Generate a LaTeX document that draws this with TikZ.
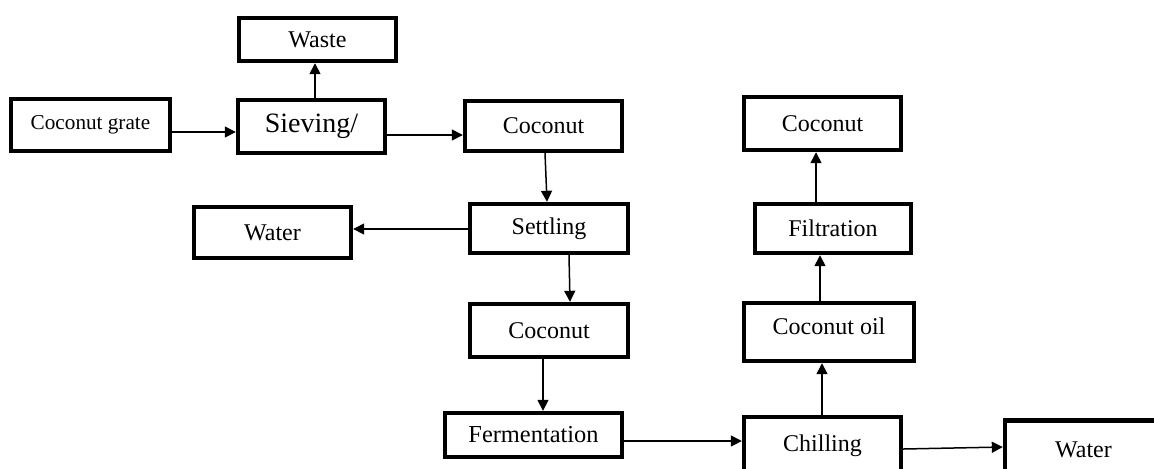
\documentclass[tikz,border=0pt]{standalone}
\usepackage{fontspec}
\setmainfont{Liberation Serif}
\usetikzlibrary{arrows.meta}

\begin{document}
\begin{tikzpicture}[x=0.5pt, y=-0.5pt,
    stage/.style={draw, line width=2.2pt, fill=white, inner sep=0pt, font=\fontsize{12}{14}\selectfont},
    flow/.style={-{Triangle[length=5.5pt, width=5.5pt]}, line width=0.75pt}]
    \useasboundingbox (0, 0) rectangle (1154, 468);
    \clip (0, 0) rectangle (1154, 468);
    \node[stage, minimum width=78.5pt, minimum height=21.5pt] (waste) at (317.5, 39.5) {Waste};
    \node[stage, minimum width=79.5pt, minimum height=26pt, font=\fontsize{10.6}{12}\selectfont] (grate) at (90.5, 125) {Coconut grate};
    \node[stage, minimum width=73.5pt, minimum height=26.5pt, font=\fontsize{14}{16}\selectfont] (sieve) at (311.5, 126.5) {Sieving/};
    \node[stage, minimum width=78.5pt, minimum height=25pt] (coco1) at (543.5, 126) {Coconut};
    \node[stage, minimum width=78.5pt, minimum height=25.5pt] (waterL) at (272.5, 232.5) {Water};
    \node[stage, minimum width=79pt, minimum height=24.5pt] (settle) at (549, 228.5) {Settling};
    \node[stage, minimum width=79pt, minimum height=26.5pt] (coco2) at (549, 330.5) {Coconut};
    \node[stage, minimum width=88.5pt, minimum height=22pt, font=\fontsize{12.2}{14}\selectfont] (ferment) at (533.5, 435) {Fermentation};
    \node[stage, minimum width=78.5pt, minimum height=29pt] (chill) at (822.5, 446) {Chilling};
    \node[stage, minimum width=78.5pt, minimum height=29pt] (waterR) at (1083.5, 449.5) {Water};
    \node[stage, minimum width=85pt, minimum height=29pt] (oil) at (829, 332) {};
    \node[anchor=base, font=\fontsize{12}{14}\selectfont] (oiltext) at (829, 334) {Coconut oil};
    \node[stage, minimum width=78pt, minimum height=24.5pt] (filt) at (833, 228.5) {Filtration};
    \node[stage, minimum width=78.5pt, minimum height=26.5pt] (cocoT) at (822.5, 123.5) {Coconut};
    \draw[flow] ([yshift=-3.5pt]grate.east) -- ([yshift=-2.75pt]sieve.west);
    \draw[flow] ([xshift=1.75pt]sieve.north) -- ([xshift=-1.25pt]waste.south);
    \draw[flow] ([yshift=-4.25pt]sieve.east) -- ([yshift=-4.5pt]coco1.west);
    \draw[flow] ([xshift=0.75pt]coco1.south) -- ([xshift=-1pt]settle.north);
    \draw[flow] ([yshift=-0.25pt]settle.west) -- ([yshift=1.75pt]waterL.east);
    \draw[flow] ([xshift=10pt]settle.south) -- ([xshift=10.5pt]coco2.north);
    \draw[flow] ([xshift=-3pt]coco2.south) -- ([xshift=4.75pt]ferment.north);
    \draw[flow] ([yshift=-3pt]ferment.east) -- ([yshift=2.5pt]chill.west);
    \draw[flow] ([yshift=-1.5pt]chill.east) -- ([yshift=1.25pt]waterR.west);
    \draw[flow] ([xshift=-0.25pt]chill.north) -- ([xshift=-3.5pt]oil.south);
    \draw[flow] ([xshift=-4.5pt]oil.north) -- ([xshift=-6.5pt]filt.south);
    \draw[flow] ([xshift=-8.5pt]filt.north) -- ([xshift=-3.25pt]cocoT.south);
\end{tikzpicture}
\end{document}
